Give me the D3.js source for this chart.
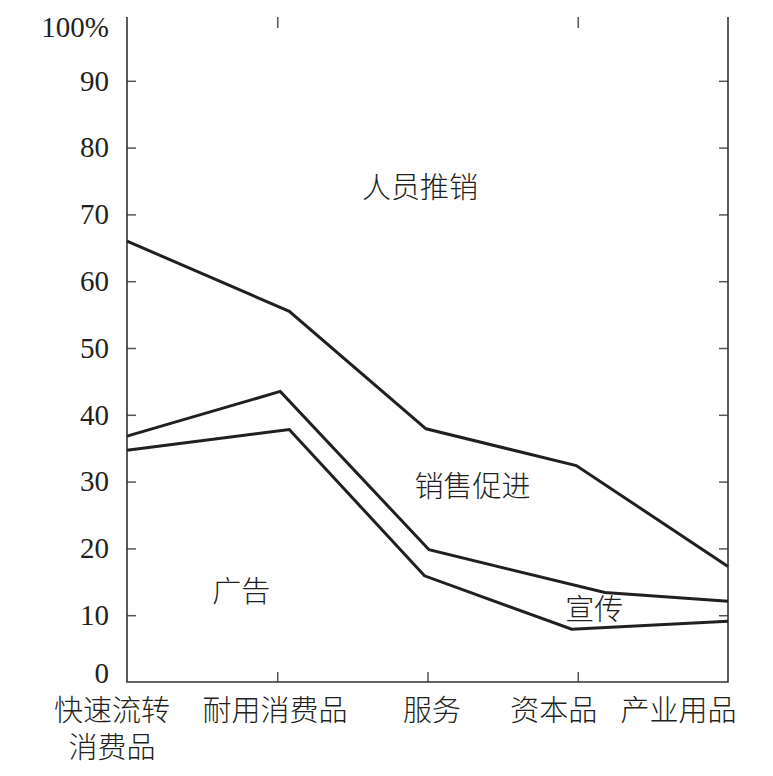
<!DOCTYPE html>
<html>
<head>
<meta charset="utf-8">
<script src="https://cdn.jsdelivr.net/npm/d3@7"></script>
<style>
  body { margin: 0; background: #fff; }
  .num { font-family: "Liberation Serif", "DejaVu Serif", serif; font-size: 29px; fill: #231f20; }
  .cjk { font-family: "Noto Sans CJK SC", sans-serif; font-size: 29px; fill: #231f20; font-weight: 300; }
</style>
</head>
<body>
<div id="chart"></div>
<script>
// data
var categories = ["快速流转消费品", "耐用消费品", "服务", "资本品", "产业用品"],
    yTicks = [0, 10, 20, 30, 40, 50, 60, 70, 80, 90, 100],
    // x is in category units (0 = first tick, 4 = right axis)
    personalX = [0, 1.08, 1.99, 2.99, 4],
    personalY = [66.0, 55.5, 37.9, 32.4, 17.3],
    promoX = [0, 1.02, 2.01, 3.18, 4],
    promoY = [36.8, 43.5, 19.8, 13.4, 12.1],
    adX = [0, 1.08, 1.98, 2.96, 4],
    adY = [34.7, 37.8, 15.9, 7.9, 9.1],
    areaNames = ["人员推销", "销售促进", "广告", "宣传"];

var width = 773, height = 776,
    plot = { left: 127, right: 728, top: 14, bottom: 682 },
    ink = "#231f20";

var svg = d3.select("#chart")
    .append("svg")
    .attr("width", width)
    .attr("height", height);

var x = d3.scaleLinear().domain([0, 4]).range([plot.left, plot.right]);
var y = d3.scaleLinear().domain([0, 100]).range([plot.bottom, plot.top]);

// left axis, ticks pointing inward
var yAxis = svg.append("g")
    .attr("transform", "translate(" + plot.left + ",0)")
    .call(d3.axisLeft(y)
        .tickValues(yTicks)
        .tickSizeInner(-9)
        .tickSizeOuter(0)
        .tickPadding(18)
        .tickFormat(function (d) { return d === 100 ? "100%" : d; }));
yAxis.select(".domain").remove();
yAxis.selectAll("text").attr("class", "num").attr("fill", null);
yAxis.attr("font-size", null).attr("font-family", null);
yAxis.selectAll(".tick line").attr("stroke", "#555").attr("stroke-width", 1.5)
    .filter(function (d) { return d === 0 || d === 100; }).remove();
yAxis.selectAll(".tick text").filter(function (d) { return d === 0; }).attr("dy", "0.0em");
yAxis.selectAll(".tick text").filter(function (d) { return d === 100; }).attr("dy", "0.78em");

// right axis, ticks pointing inward
var rAxis = svg.append("g")
    .attr("transform", "translate(" + plot.right + ",0)")
    .call(d3.axisRight(y)
        .tickValues(yTicks.slice(1, -1))
        .tickSizeInner(-9)
        .tickSizeOuter(0)
        .tickFormat(""));
rAxis.select(".domain").remove();
rAxis.selectAll(".tick line").attr("stroke", "#555").attr("stroke-width", 1.5);

// bottom axis ticks
var xAxis = svg.append("g")
    .attr("transform", "translate(0," + plot.bottom + ")")
    .call(d3.axisBottom(x)
        .tickValues([1, 2, 3])
        .tickSizeInner(-10)
        .tickSizeOuter(0)
        .tickFormat(""));
xAxis.select(".domain").remove();
xAxis.selectAll(".tick line").attr("stroke", "#555").attr("stroke-width", 1.5);

// small ticks at the top
var tAxis = svg.append("g")
    .attr("transform", "translate(0,17)")
    .call(d3.axisTop(x)
        .tickValues([1, 3])
        .tickSizeInner(-11)
        .tickSizeOuter(0)
        .tickFormat(""));
tAxis.select(".domain").remove();
tAxis.selectAll(".tick line").attr("stroke", "#555").attr("stroke-width", 1.5);

// frame lines (left, bottom, right)
svg.append("path")
    .attr("d", "M" + plot.left + ",17V" + plot.bottom + "H" + plot.right + "V17")
    .attr("fill", "none")
    .attr("stroke", "#333")
    .attr("stroke-width", 1.6);

// the three boundary lines
var line = d3.line()
    .x(function (d) { return x(d[0]); })
    .y(function (d) { return y(d[1]); });

[[personalX, personalY], [promoX, promoY], [adX, adY]].forEach(function (s) {
    svg.append("path")
        .datum(d3.zip(s[0], s[1]))
        .attr("d", line)
        .attr("fill", "none")
        .attr("stroke", ink)
        .attr("stroke-width", 3)
        .attr("stroke-linejoin", "miter");
});

// area names
var areaPos = [[1.95, 74.0], [2.30, 29.2], [0.76, 13.6], [3.11, 10.8]];
svg.selectAll(".area-name")
    .data(areaNames)
    .enter().append("text")
    .attr("class", "cjk")
    .attr("x", function (d, i) { return x(areaPos[i][0]); })
    .attr("y", function (d, i) { return y(areaPos[i][1]); })
    .attr("dy", "0.36em")
    .attr("text-anchor", "middle")
    .text(function (d) { return d; });

// category labels
var labelPos = [-0.1, 0.985, 2.03, 2.84, 3.67];
var cat = svg.selectAll(".cat")
    .data(categories)
    .enter().append("text")
    .attr("class", "cjk")
    .attr("text-anchor", "middle")
    .attr("x", function (d, i) { return x(labelPos[i]); })
    .attr("y", 711)
    .attr("dy", "0.36em");

cat.each(function (d) {
    var t = d3.select(this);
    if (d.length > 5) {
        t.append("tspan").attr("x", t.attr("x")).text(d.slice(0, 4));
        t.append("tspan").attr("x", t.attr("x")).attr("dy", 37).text(d.slice(4));
    } else {
        t.text(d);
    }
});
</script>
</body>
</html>
